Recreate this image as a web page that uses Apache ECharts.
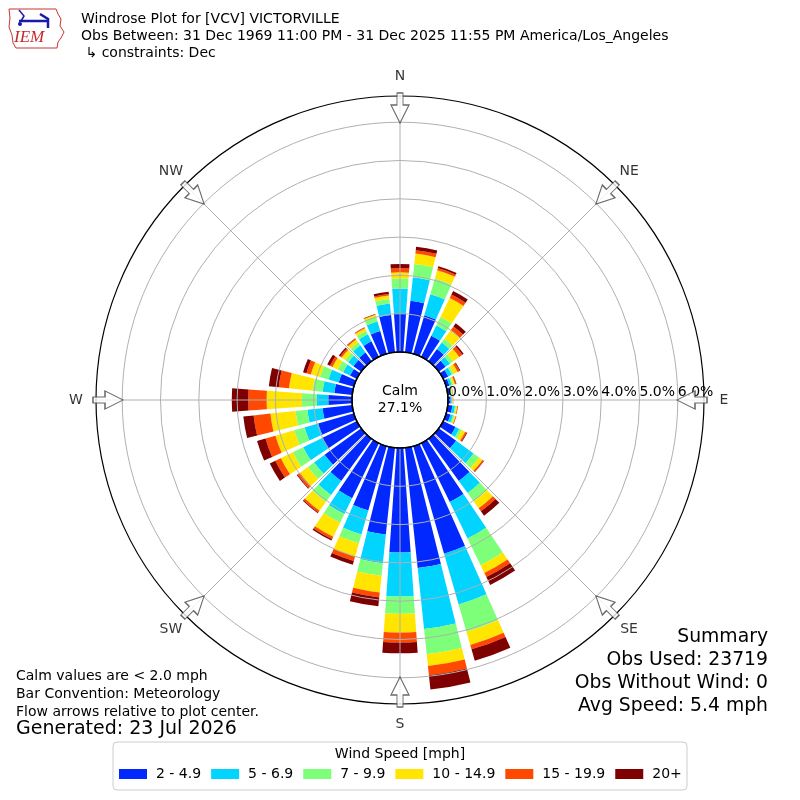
<!DOCTYPE html>
<html><head><meta charset="utf-8">
<script src="https://cdn.jsdelivr.net/npm/echarts@6/dist/echarts.min.js"></script>
<style>html,body{margin:0;padding:0;background:#fff}#c{width:800px;height:800px}</style>
</head><body><div id="c"></div>
<script>
// ---- data ----
const directions = ['0','10','20','30','40','50','60','70','80','90','100','110','120','130','140','150','160','170',
  '180','190','200','210','220','230','240','250','260','270','280','290','300','310','320','330','340','350'];
const speedBins = ['2 - 4.9','5 - 6.9','7 - 9.9','10 - 14.9','15 - 19.9','20+'];
const binColors = ['#0028ff','#00d4ff','#7dff7a','#ffe500','#ff4800','#7f0000'];
// percent of observations per direction bin, one array per speed bin
const spd2to5   = [1.01,1.35,1.05,0.61,0.39,0.22,0.15,0.09,0.06,0.07,0.12,0.12,0.36,0.56,1.36,1.71,2.92,3.16,2.73,2.28,1.75,1.60,1.36,1.18,1.01,0.97,0.78,0.62,0.47,0.41,0.20,0.25,0.28,0.45,0.62,0.98];
const spd5to7   = [0.65,0.62,0.57,0.30,0.21,0.14,0.10,0.06,0.03,0.03,0.07,0.07,0.11,0.56,0.39,1.06,1.38,1.60,1.15,0.75,0.65,0.46,0.45,0.34,0.55,0.37,0.40,0.30,0.31,0.28,0.20,0.17,0.23,0.21,0.26,0.30];
const spd7to10  = [0.26,0.35,0.43,0.25,0.12,0.10,0.06,0.04,0.02,0.02,0.03,0.04,0.07,0.18,0.27,0.78,0.74,0.66,0.45,0.33,0.24,0.25,0.23,0.20,0.30,0.28,0.31,0.39,0.26,0.23,0.16,0.10,0.09,0.10,0.12,0.12];
const spd10to15 = [0.16,0.27,0.22,0.55,0.28,0.20,0.11,0.05,0.02,0.01,0.03,0.03,0.10,0.11,0.22,0.22,0.36,0.31,0.49,0.44,0.36,0.41,0.28,0.26,0.35,0.51,0.66,0.92,0.62,0.25,0.15,0.11,0.10,0.07,0.06,0.09];
const spd15to20 = [0.11,0.09,0.06,0.10,0.12,0.10,0.06,0.03,0.01,0.01,0.02,0.02,0.04,0.04,0.10,0.12,0.12,0.24,0.26,0.13,0.12,0.07,0.06,0.08,0.16,0.27,0.44,0.48,0.27,0.12,0.07,0.05,0.03,0.02,0.01,0.04];
const spd20plus = [0.11,0.09,0.05,0.10,0.10,0.04,0.02,0.01,0.00,0.00,0.00,0.00,0.02,0.01,0.14,0.23,0.31,0.38,0.28,0.23,0.10,0.04,0.02,0.02,0.16,0.23,0.27,0.43,0.26,0.09,0.08,0.04,0.01,0.01,0.01,0.06];
const compassLabels = ['N','NE','E','SE','S','SW','W','NW'];
const compassAngles = [0,45,90,135,180,225,270,315];
const radiusTicks = [0,1,2,3,4,5,6];
const calmPct = 27.1;
const titleLines = ['Windrose Plot for [VCV] VICTORVILLE',
  'Obs Between: 31 Dec 1969 11:00 PM - 31 Dec 2025 11:55 PM America/Los_Angeles',
  ' \u21b3 constraints: Dec'];
const noteLines = ['Calm values are < 2.0 mph','Bar Convention: Meteorology','Flow arrows relative to plot center.'];
const generatedText = 'Generated: 23 Jul 2026';
const summaryLines = ['Summary','Obs Used: 23719','Obs Without Wind: 0','Avg Speed: 5.4 mph'];
const legendTitle = 'Wind Speed [mph]';

// ---- layout ----
const FONT = 'DejaVu Sans';
const R0 = 48, PX_PER_PCT = 38.3, R_OUT = 304, R_LABEL = 324;
const maxPct = (R_OUT - R0) / PX_PER_PCT;
const labelMaxPct = (R_LABEL - R0) / PX_PER_PCT;
const arrowPct = (292 - R0) / PX_PER_PCT;
const speedData = [spd2to5, spd5to7, spd7to10, spd10to15, spd15to20, spd20plus];

const chart = echarts.init(document.getElementById('c'), null, {renderer: 'canvas'});

const barSeries = speedData.map((d, i) => ({
  type: 'bar', name: speedBins[i], coordinateSystem: 'polar', polarIndex: 0,
  stack: 'wind', data: d, barCategoryGap: '20%', silent: true, z: 2,
  itemStyle: {color: binColors[i]}
}));

const arrowPath = 'path://M9,0 L18,18 L12,18 L12,30 L6,30 L6,18 L0,18 Z';
const arrowSeries = {
  type: 'scatter', coordinateSystem: 'polar', polarIndex: 1, silent: true, z: 10,
  symbol: arrowPath, symbolSize: [18, 30],
  itemStyle: {color: '#ffffff', borderColor: '#444', borderWidth: 1.2},
  data: compassAngles.map(a => ({value: [arrowPct, a], symbolRotate: 180 - a}))
};
const compassLabelSeries = {
  type: 'scatter', coordinateSystem: 'polar', polarIndex: 4, silent: true, z: 10,
  symbol: 'circle', symbolSize: 2,
  itemStyle: {color: 'rgba(0,0,0,0)'},
  label: {show: true, position: 'inside', fontSize: 14, color: '#000', fontFamily: 'DejaVu Sans',
    formatter: p => compassLabels[p.dataIndex]},
  data: compassAngles.map(a => [labelMaxPct, a])
};

const graphics = [
  // IEM logo
  {type: 'polygon', shape: {points: [[9,9],[56,9],[58,14],[61,19],[60,26],[64,32],[61,38],[58,42],[57,48],[16,48],[13,43],[12,35],[9,27],[10,18]]},
   style: {fill: 'none', stroke: '#cc3333', lineWidth: 1}, z: 20},
  {type: 'polyline', shape: {points: [[19,21],[48,21]]}, style: {stroke: '#1a1aa8', lineWidth: 2.5}, z: 20},
  {type: 'polyline', shape: {points: [[19,10],[24,16],[21,21]]}, style: {stroke: '#1a1aa8', lineWidth: 1.5, fill: 'none'}, z: 20},
  {type: 'polyline', shape: {points: [[40,14],[48,19],[48,28]]}, style: {stroke: '#1a1aa8', lineWidth: 2.5, fill: 'none'}, z: 20},
  {type: 'circle', shape: {cx: 20, cy: 24, r: 2}, style: {fill: '#1a1aa8'}, z: 20},
  {type: 'text', x: 14, y: 29, style: {text: 'IEM', font: 'italic 17px "Liberation Serif"', fill: '#c8282d'}, z: 20},
  // title
  {type: 'text', x: 81, y: 11, style: {text: titleLines.join('\n'), font: '14px "DejaVu Sans"', lineHeight: 17, fill: '#000'}, z: 20},
  // calm
  {type: 'text', x: 400, y: 400, style: {text: 'Calm\n' + calmPct.toFixed(1) + '%', font: '14px "DejaVu Sans"', lineHeight: 17,
   align: 'center', verticalAlign: 'middle', fill: '#000'}, z: 20},
  // notes
  {type: 'text', x: 16, y: 667, style: {text: noteLines.join('\n'), font: '14px "DejaVu Sans"', lineHeight: 18, fill: '#000'}, z: 20},
  {type: 'text', x: 16, y: 720, style: {text: generatedText, font: '19px "DejaVu Sans"', fill: '#000'}, z: 20},
  // summary
  {type: 'text', x: 768, y: 626, style: {text: summaryLines.join('\n'), font: '18.8px "DejaVu Sans"', lineHeight: 23, align: 'right', fill: '#000'}, z: 20},
  // legend box
  {type: 'rect', shape: {x: 113, y: 742, width: 574, height: 48, r: 4}, style: {fill: '#fff', stroke: '#cccccc', lineWidth: 1}, z: 0},
  {type: 'text', x: 400, y: 754, style: {text: legendTitle, font: '14px "DejaVu Sans"', align: 'center', verticalAlign: 'middle', fill: '#000'}, z: 20}
];

const hiddenAngle = (idx, start) => ({polarIndex: idx, type: 'value', min: 0, max: 360, startAngle: start, z: 5,
  axisLine: {show: false}, axisTick: {show: false}, axisLabel: {show: false}, splitLine: {show: false}});

const option = {
  animation: false,
  backgroundColor: '#fff',
  textStyle: {fontFamily: FONT},
  polar: [
    {center: [400, 400], radius: [R0, R_OUT]},                       // 0: bars
    {center: [400, 400], radius: [R0, R_OUT]},                       // 1: compass ring, spokes, arrows
    {center: [400, 400], radius: [0, R0]},                           // 2: calm circle
    {center: [400, 400], radius: [R0, R0 + 6 * PX_PER_PCT]},         // 3: percent rings + labels
    {center: [400, 400], radius: [R0, R_LABEL]}                      // 4: compass labels
  ],
  angleAxis: [
    {polarIndex: 0, type: 'category', data: directions, startAngle: 95, clockwise: true, show: false},
    {polarIndex: 1, type: 'value', min: 0, max: 360, interval: 45, startAngle: 90, clockwise: true, z: 6,
     axisLine: {show: true, lineStyle: {color: '#000', width: 1.2}},
     axisTick: {show: false},
     axisLabel: {show: false},
     splitLine: {show: true, lineStyle: {color: '#b0b0b0', width: 1}}},
    {polarIndex: 2, type: 'value', min: 0, max: 360, startAngle: 90, z: 7,
     axisLine: {show: true, lineStyle: {color: '#000', width: 1.5}},
     axisTick: {show: false}, axisLabel: {show: false}, splitLine: {show: false}},
    hiddenAngle(3, 0),
    hiddenAngle(4, 90)
  ],
  radiusAxis: [
    {polarIndex: 0, min: 0, max: maxPct, show: false},
    {polarIndex: 1, min: 0, max: maxPct, show: false},
    {polarIndex: 2, min: 0, max: 1, show: false},
    {polarIndex: 3, type: 'value', min: radiusTicks[0], max: radiusTicks[radiusTicks.length - 1], interval: 1, z: 5,
     axisLine: {show: false}, axisTick: {show: false},
     axisLabel: {show: true, align: 'left', margin: 1, fontSize: 14, color: '#000', fontFamily: FONT,
       formatter: v => v.toFixed(1) + '%'},
     splitLine: {show: true, lineStyle: {color: '#b0b0b0', width: 1}}},
    {polarIndex: 4, min: 0, max: labelMaxPct, show: false}
  ],
  legend: {
    data: speedBins, left: 119, top: 767, padding: 0, itemWidth: 28, itemHeight: 10, itemGap: 10,
    icon: 'rect', selectedMode: false, z: 20,
    textStyle: {fontSize: 14, color: '#000', fontFamily: FONT, padding: [0, 0, 0, 4]}
  },
  graphic: graphics,
  series: barSeries.concat([arrowSeries, compassLabelSeries])
};
chart.setOption(option);
</script></body></html>
